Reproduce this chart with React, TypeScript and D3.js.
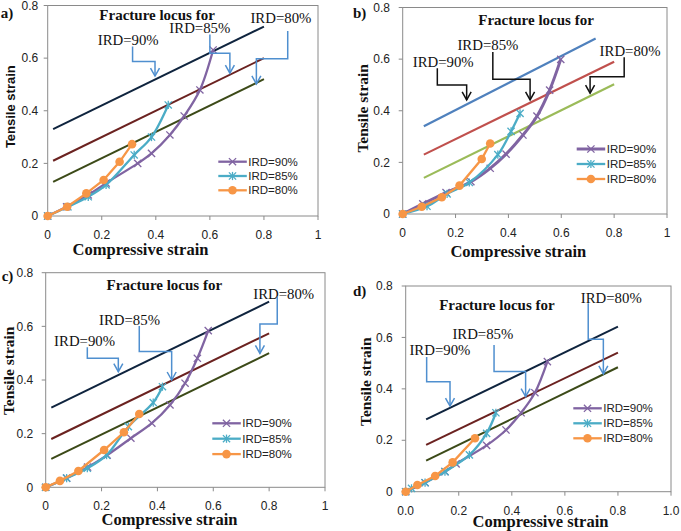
import React from "react";
import * as d3 from "d3";

type Pt = [number, number];

// ---------- DATA ----------
const seriesNames = ["IRD=90%", "IRD=85%", "IRD=80%"];
const yTickValues = [0, 0.2, 0.4, 0.6, 0.8];
const yTickLabels = ["0", "0.2", "0.4", "0.6", "0.8"];
const xTickValues = [0, 0.2, 0.4, 0.6, 0.8, 1];
const xTickLabelsShort = ["0", "0.2", "0.4", "0.6", "0.8", "1"];
const xTickLabelsLong = ["0.0", "0.2", "0.4", "0.6", "0.8", "1.0"];

// Panel a
const locusA90: Pt[] = [[0.02, 0.33], [0.8, 0.72]];
const locusA85: Pt[] = [[0.02, 0.21], [0.8, 0.6]];
const locusA80: Pt[] = [[0.02, 0.13], [0.8, 0.52]];
const curveA90: Pt[] = [[0, 0], [0.07, 0.035], [0.15, 0.08], [0.216, 0.125], [0.333, 0.2], [0.384, 0.238], [0.452, 0.308], [0.505, 0.38], [0.563, 0.479], [0.612, 0.631]];
const curveA85: Pt[] = [[0, 0], [0.075, 0.035], [0.15, 0.073], [0.216, 0.118], [0.32, 0.232], [0.384, 0.3], [0.446, 0.422]];
const curveA80: Pt[] = [[0, 0], [0.072, 0.035], [0.143, 0.086], [0.207, 0.137], [0.266, 0.206], [0.312, 0.273]];
const labelsA: { t: string; p: Pt; bold?: boolean }[] = [
  { t: "Fracture locus for", p: [0.191, 0.745], bold: true },
  { t: "IRD=90%", p: [0.185, 0.65] },
  { t: "IRD=85%", p: [0.45, 0.694] },
  { t: "IRD=80%", p: [0.75, 0.735] },
];
const arrowsA: Pt[][] = [
  [[0.314, 0.644], [0.314, 0.587], [0.397, 0.587], [0.397, 0.532]],
  [[0.6, 0.69], [0.6, 0.619], [0.674, 0.619], [0.674, 0.543]],
  [[0.888, 0.703], [0.888, 0.598], [0.772, 0.598], [0.772, 0.502]],
];

// Panel b
const locusB90: Pt[] = [[0.08, 0.34], [0.73, 0.68]];
const locusB85: Pt[] = [[0.08, 0.23], [0.8, 0.59]];
const locusB80: Pt[] = [[0.08, 0.14], [0.8, 0.503]];
const curveB90: Pt[] = [[0, 0], [0.076, 0.039], [0.164, 0.083], [0.258, 0.125], [0.331, 0.177], [0.391, 0.232], [0.455, 0.306], [0.508, 0.379], [0.556, 0.48], [0.598, 0.599]];
const curveB85: Pt[] = [[0, 0], [0.092, 0.03], [0.168, 0.078], [0.252, 0.122], [0.36, 0.23], [0.41, 0.32], [0.444, 0.39]];
const curveB80: Pt[] = [[0, 0], [0.072, 0.028], [0.148, 0.065], [0.215, 0.11], [0.299, 0.213], [0.331, 0.273]];
const labelsB: { t: string; p: Pt; bold?: boolean }[] = [
  { t: "Fracture locus for", p: [0.286, 0.733], bold: true },
  { t: "IRD=90%", p: [0.038, 0.568] },
  { t: "IRD=85%", p: [0.207, 0.636] },
  { t: "IRD=80%", p: [0.745, 0.612] },
];
const arrowsB: Pt[][] = [
  [[0.131, 0.565], [0.131, 0.5], [0.242, 0.5], [0.242, 0.442]],
  [[0.341, 0.628], [0.341, 0.522], [0.482, 0.522], [0.482, 0.442]],
  [[0.838, 0.607], [0.838, 0.532], [0.709, 0.532], [0.709, 0.468]],
];

// Panel c
const locusC90: Pt[] = [[0.02, 0.297], [0.8, 0.692]];
const locusC85: Pt[] = [[0.02, 0.18], [0.8, 0.574]];
const locusC80: Pt[] = [[0.02, 0.106], [0.8, 0.5]];
const curveC90: Pt[] = [[0, 0], [0.075, 0.034], [0.15, 0.075], [0.22, 0.12], [0.305, 0.183], [0.38, 0.239], [0.445, 0.307], [0.499, 0.388], [0.543, 0.481], [0.582, 0.584]];
const curveC85: Pt[] = [[0, 0], [0.075, 0.034], [0.149, 0.071], [0.218, 0.12], [0.296, 0.226], [0.385, 0.316], [0.418, 0.375]];
const curveC80: Pt[] = [[0, 0], [0.051, 0.024], [0.117, 0.061], [0.209, 0.139], [0.28, 0.205], [0.335, 0.273]];
const labelsC: { t: string; p: Pt; bold?: boolean }[] = [
  { t: "Fracture locus for", p: [0.218, 0.735], bold: true },
  { t: "IRD=90%", p: [0.03, 0.527] },
  { t: "IRD=85%", p: [0.191, 0.604] },
  { t: "IRD=80%", p: [0.743, 0.703] },
];
const arrowsC: Pt[][] = [
  [[0.149, 0.522], [0.149, 0.481], [0.26, 0.481], [0.26, 0.431]],
  [[0.335, 0.601], [0.335, 0.506], [0.451, 0.506], [0.451, 0.4]],
  [[0.829, 0.711], [0.829, 0.609], [0.767, 0.609], [0.767, 0.499]],
];

// Panel d
const locusD90: Pt[] = [[0.077, 0.281], [0.8, 0.642]];
const locusD85: Pt[] = [[0.077, 0.182], [0.8, 0.541]];
const locusD80: Pt[] = [[0.077, 0.121], [0.8, 0.484]];
const curveD90: Pt[] = [[0, 0], [0.073, 0.035], [0.148, 0.078], [0.19, 0.108], [0.305, 0.18], [0.378, 0.24], [0.435, 0.307], [0.487, 0.385], [0.534, 0.506]];
const curveD85: Pt[] = [[0, 0], [0.022, 0.013], [0.073, 0.035], [0.148, 0.078], [0.24, 0.143], [0.305, 0.227], [0.34, 0.307]];
const curveD80: Pt[] = [[0, 0], [0.044, 0.026], [0.111, 0.061], [0.177, 0.114], [0.261, 0.208]];
const labelsD: { t: string; p: Pt; bold?: boolean }[] = [
  { t: "Fracture locus for", p: [0.126, 0.707], bold: true },
  { t: "IRD=90%", p: [0.014, 0.53] },
  { t: "IRD=85%", p: [0.176, 0.593] },
  { t: "IRD=80%", p: [0.66, 0.733] },
];
const arrowsD: Pt[][] = [
  [[0.079, 0.524], [0.079, 0.428], [0.167, 0.428], [0.167, 0.333]],
  [[0.333, 0.571], [0.333, 0.467], [0.452, 0.467], [0.452, 0.37]],
  [[0.688, 0.733], [0.688, 0.593], [0.745, 0.593], [0.745, 0.458]],
];

// ---------- STYLE / LAYOUT ----------
const SERIF = "'Liberation Serif', 'Times New Roman', serif";
const SANS = "'Liberation Sans', Arial, sans-serif";
const curveColors = ["#8064A2", "#4BACC6", "#F79646"];
const darkLocus = ["#0F243E", "#6B2220", "#3C4A18"];
const brightLocus = ["#4F81BD", "#C0504D", "#9BBB59"];

interface PanelCfg {
  tag: string;
  left: number; right: number; top: number; bottom: number;
  locus: Pt[][]; locusColors: string[];
  curves: Pt[][];
  labels: { t: string; p: Pt; bold?: boolean }[];
  arrows: Pt[][]; arrowColor: string;
  xTickLabels: string[];
  yGap: number; xLabOff: number;
  legend: { x: number; y: number; dy: number };
  tensile: { x: number; y: number; sans: boolean };
  compressive: { x: number; y: number };
  tagPos: { x: number; y: number };
}

const panels: PanelCfg[] = [
  {
    tag: "a)", left: 47.7, right: 318, top: 5.5, bottom: 216,
    locus: [locusA90, locusA85, locusA80], locusColors: darkLocus,
    curves: [curveA90, curveA85, curveA80],
    labels: labelsA, arrows: arrowsA, arrowColor: "#4F8FCF",
    xTickLabels: xTickLabelsShort, yGap: 9.5, xLabOff: 23,
    legend: { x: 218.3, y: 161.7, dy: 14.3 },
    tensile: { x: 14.5, y: 106.7, sans: true },
    compressive: { x: 140.5, y: 254.5 },
    tagPos: { x: 0.7, y: 17.5 },
  },
  {
    tag: "b)", left: 402.7, right: 667, top: 7.5, bottom: 214,
    locus: [locusB90, locusB85, locusB80], locusColors: brightLocus,
    curves: [curveB90, curveB85, curveB80],
    labels: labelsB, arrows: arrowsB, arrowColor: "#111111",
    xTickLabels: xTickLabelsShort, yGap: 12.7, xLabOff: 23,
    legend: { x: 576.7, y: 149, dy: 15 },
    tensile: { x: 368, y: 108.3, sans: false },
    compressive: { x: 518.3, y: 256.5 },
    tagPos: { x: 353, y: 18 },
  },
  {
    tag: "c)", left: 45.7, right: 325, top: 272.7, bottom: 487.3,
    locus: [locusC90, locusC85, locusC80], locusColors: darkLocus,
    curves: [curveC90, curveC85, curveC80],
    labels: labelsC, arrows: arrowsC, arrowColor: "#4F8FCF",
    xTickLabels: xTickLabelsShort, yGap: 12.4, xLabOff: 22.5,
    legend: { x: 212.3, y: 423.3, dy: 15.4 },
    tensile: { x: 14, y: 370.8, sans: false },
    compressive: { x: 169.5, y: 525 },
    tagPos: { x: 1.7, y: 281 },
  },
  {
    tag: "d)", left: 405.7, right: 671, top: 286, bottom: 491.7,
    locus: [locusD90, locusD85, locusD80], locusColors: darkLocus,
    curves: [curveD90, curveD85, curveD80],
    labels: labelsD, arrows: arrowsD, arrowColor: "#4F8FCF",
    xTickLabels: xTickLabelsLong, yGap: 13, xLabOff: 23,
    legend: { x: 573.3, y: 408.3, dy: 15 },
    tensile: { x: 370.5, y: 381.7, sans: false },
    compressive: { x: 540.5, y: 526.5 },
    tagPos: { x: 353, y: 296 },
  },
];

function Marker({ kind, x, y, color }: { kind: number; x: number; y: number; color: string }) {
  const s = 3.6;
  if (kind === 2) return <circle cx={x} cy={y} r={4.3} fill={color} />;
  return (
    <g stroke={color} strokeWidth={1.3}>
      <line x1={x - s} y1={y - s} x2={x + s} y2={y + s} />
      <line x1={x - s} y1={y + s} x2={x + s} y2={y - s} />
      {kind === 1 && <line x1={x} y1={y - s - 0.5} x2={x} y2={y + s + 0.5} />}
    </g>
  );
}

function Panel({ cfg }: { cfg: PanelCfg }) {
  const x = d3.scaleLinear().domain([0, 1]).range([cfg.left, cfg.right]);
  const y = d3.scaleLinear().domain([0, 0.8]).range([cfg.bottom, cfg.top]);
  const straight = d3.line<Pt>().x((d) => x(d[0])).y((d) => y(d[1]));
  const smooth = d3.line<Pt>().x((d) => x(d[0])).y((d) => y(d[1])).curve(d3.curveCatmullRom.alpha(0.5));
  const frame = "#8A8A8A";
  const isB = cfg.tag === "b)";
  return (
    <g>
      <rect x={cfg.left} y={cfg.top} width={cfg.right - cfg.left} height={cfg.bottom - cfg.top} fill="none" stroke={frame} strokeWidth={1} />
      {xTickValues.map((v, i) => (
        <g key={"xt" + i}>
          <line x1={x(v)} x2={x(v)} y1={cfg.bottom} y2={cfg.bottom + 4} stroke={frame} />
          <text x={x(v)} y={cfg.bottom + cfg.xLabOff} textAnchor="middle" fontFamily={SANS} fontSize={12} fill="#222">{cfg.xTickLabels[i]}</text>
        </g>
      ))}
      {yTickValues.map((v, i) => (
        <g key={"yt" + i}>
          <line x1={cfg.left - 4} x2={cfg.left} y1={y(v)} y2={y(v)} stroke={frame} />
          <text x={cfg.left - cfg.yGap} y={y(v)} dy="0.35em" textAnchor="end" fontFamily={SANS} fontSize={12} fill="#222">{yTickLabels[i]}</text>
        </g>
      ))}
      {cfg.locus.map((l, i) => (
        <path key={"l" + i} d={straight(l) || ""} fill="none" stroke={cfg.locusColors[i]} strokeWidth={isB ? 2.2 : 2} />
      ))}
      {cfg.curves.map((c, i) => (
        <g key={"c" + i}>
          <path d={(i === 2 ? straight(c) : smooth(c)) || ""} fill="none" stroke={curveColors[i]} strokeWidth={i === 0 && isB ? 3 : 2.3} />
          {c.map((p, j) => (
            <Marker key={j} kind={i} x={x(p[0])} y={y(p[1])} color={curveColors[i]} />
          ))}
        </g>
      ))}
      {cfg.labels.map((l, i) => (
        <text key={"t" + i} x={x(l.p[0])} y={y(l.p[1])} fontFamily={SERIF} fontSize={l.bold ? 15 : 14.8} fontWeight={l.bold ? "bold" : "normal"} fill="#111">{l.t}</text>
      ))}
      {cfg.arrows.map((a, i) => {
        const tip = a[a.length - 1];
        const tx = x(tip[0]);
        const ty = y(tip[1]);
        return (
          <g key={"a" + i} fill="none" stroke={cfg.arrowColor} strokeWidth={1.5}>
            <path d={straight(a) || ""} />
            <path d={`M${tx - 4.5},${ty - 8}L${tx},${ty}L${tx + 4.5},${ty - 8}`} />
          </g>
        );
      })}
      {seriesNames.map((n, i) => {
        const ly = cfg.legend.y + i * cfg.legend.dy;
        const lx = cfg.legend.x;
        return (
          <g key={"lg" + i}>
            <line x1={lx} x2={lx + 28.5} y1={ly} y2={ly} stroke={curveColors[i]} strokeWidth={i === 0 && isB ? 3 : 2.3} />
            <Marker kind={i} x={lx + 14.2} y={ly} color={curveColors[i]} />
            <text x={lx + 30} y={ly} dy="0.35em" fontFamily={SANS} fontSize={11.5} fill="#222">{n}</text>
          </g>
        );
      })}
      <text x={cfg.compressive.x} y={cfg.compressive.y} textAnchor="middle" fontFamily={SERIF} fontWeight="bold" fontSize={16.5} fill="#111">Compressive strain</text>
      <text transform={`translate(${cfg.tensile.x},${cfg.tensile.y}) rotate(-90)`} textAnchor="middle" fontFamily={cfg.tensile.sans ? SANS : SERIF} fontWeight="bold" fontSize={cfg.tensile.sans ? 13 : 15.5} fill="#111">Tensile strain</text>
      <text x={cfg.tagPos.x} y={cfg.tagPos.y} fontFamily={SERIF} fontWeight="bold" fontSize={15} fill="#111">{cfg.tag}</text>
    </g>
  );
}

export default function App() {
  return (
    <svg width={681} height={531} style={{ position: "absolute", left: 0, top: 0, background: "#fff" }}>
      <rect x={0} y={0} width={681} height={531} fill="#fff" />
      {panels.map((p) => (
        <Panel key={p.tag} cfg={p} />
      ))}
    </svg>
  );
}
